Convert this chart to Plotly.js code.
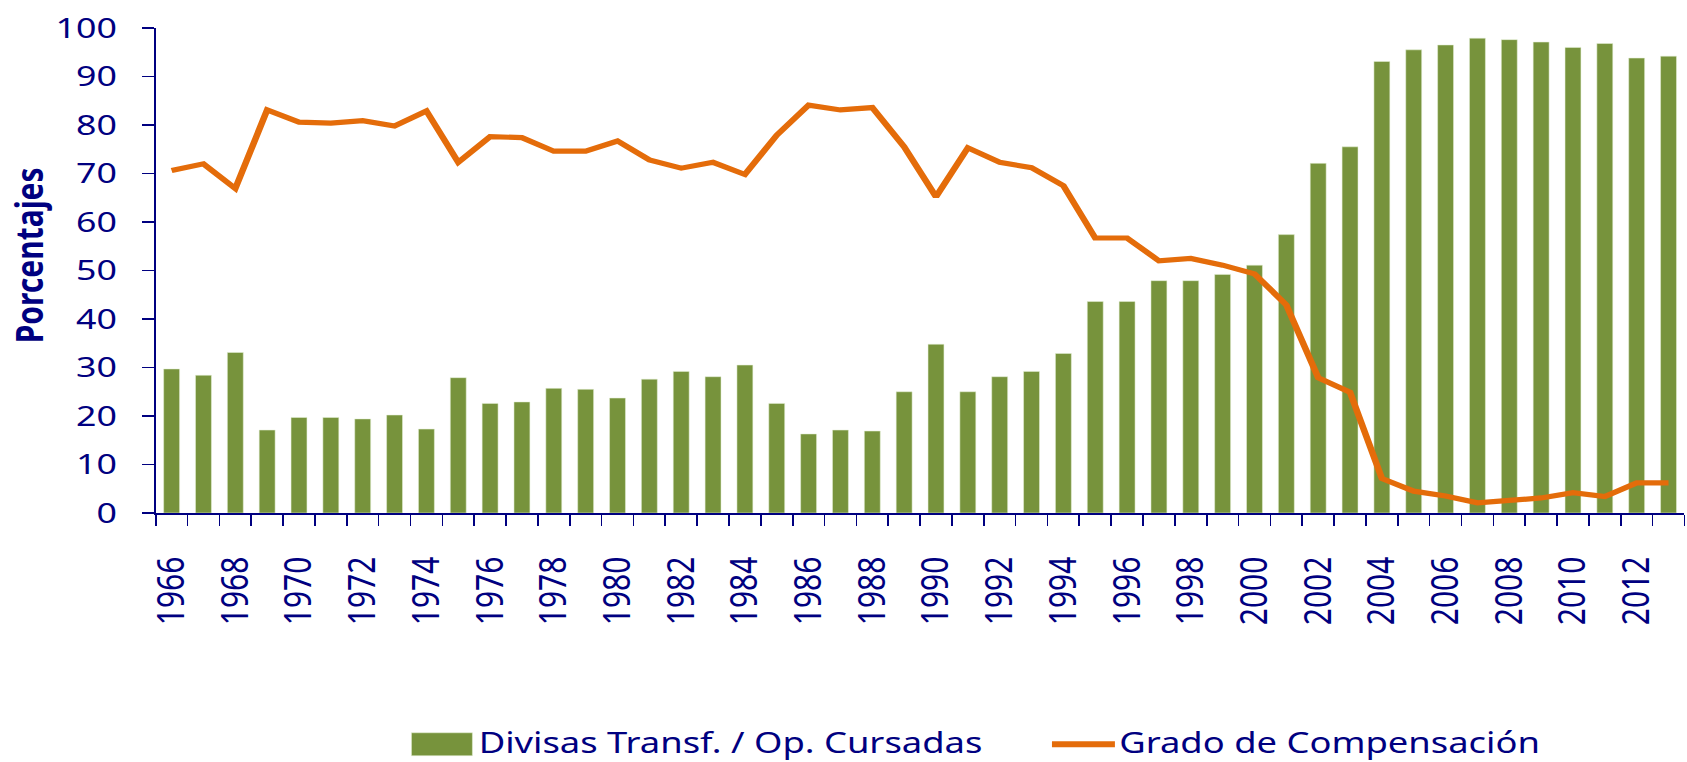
<!DOCTYPE html>
<html>
<head>
<meta charset="utf-8">
<script src="https://cdn.plot.ly/plotly-3.0.1.min.js"></script>
<style>
  html, body { margin: 0; padding: 0; background: #ffffff; overflow: hidden; }
  #chart { width: 1322px; height: 762px; transform: scaleX(1.27610); transform-origin: 0 0; }
</style>
</head>
<body>
<div id="chart"></div>
<script>
// ---- data ----
const years = [1966, 1967, 1968, 1969, 1970, 1971, 1972, 1973, 1974, 1975, 1976, 1977,
  1978, 1979, 1980, 1981, 1982, 1983, 1984, 1985, 1986, 1987, 1988, 1989,
  1990, 1991, 1992, 1993, 1994, 1995, 1996, 1997, 1998, 1999, 2000, 2001,
  2002, 2003, 2004, 2005, 2006, 2007, 2008, 2009, 2010, 2011, 2012, 2013];

const divisasTransf = [29.7, 28.4, 33.1, 17.1, 19.7, 19.7, 19.4, 20.2, 17.3, 27.9, 22.6, 22.9,
  25.7, 25.5, 23.7, 27.6, 29.2, 28.1, 30.5, 22.6, 16.3, 17.1, 16.9, 25.0,
  34.8, 25.0, 28.1, 29.2, 32.9, 43.6, 43.6, 47.9, 47.9, 49.2, 51.1, 57.4,
  72.1, 75.5, 93.1, 95.5, 96.5, 97.9, 97.6, 97.1, 96.0, 96.8, 93.8, 94.2];

const gradoCompensacion = [70.6, 72.0, 66.9, 83.1, 80.6, 80.4, 80.9, 79.8, 82.9, 72.3, 77.6, 77.4,
  74.6, 74.6, 76.7, 72.8, 71.1, 72.3, 69.8, 77.9, 84.1, 83.1, 83.6, 75.5,
  65.2, 75.3, 72.3, 71.2, 67.5, 56.7, 56.7, 52.0, 52.5, 51.1, 49.3, 42.9,
  27.9, 24.9, 7.1, 4.5, 3.5, 2.1, 2.6, 3.1, 4.2, 3.4, 6.2, 6.2];

const xTickYears = [1966, 1968, 1970, 1972, 1974, 1976, 1978, 1980, 1982, 1984, 1986, 1988,
  1990, 1992, 1994, 1996, 1998, 2000, 2002, 2004, 2006, 2008, 2010, 2012];
const xTickLabels = ["1966", "1968", "1970", "1972", "1974", "1976", "1978", "1980", "1982", "1984", "1986", "1988",
  "1990", "1992", "1994", "1996", "1998", "2000", "2002", "2004", "2006", "2008", "2010", "2012"];

const seriesNames = ["Divisas Transf. / Op. Cursadas", "Grado de Compensación"];
const yTitle = "Porcentajes";

// ---- styling / layout ----
const K = 1.27610;           // horizontal stretch applied by CSS
const W = 1322, H = 762;
const M = { l: 121.5, r: 1.6, t: 27.5, b: 249 };
const NAVY = "#000080";
const GREEN = "#77933C";
const ORANGE = "#E46C0A";
const FONT = "Noto Sans, Open Sans, DejaVu Sans, sans-serif";

const plotW = W - M.l - M.r, plotH = H - M.t - M.b;
const px = X => (X / K - M.l) / plotW;          // page x (full px) -> paper x
const py = Y => (H - M.b - Y) / plotH;          // page y -> paper y

const traces = [
  {
    type: "bar",
    x: years,
    y: divisasTransf,
    name: seriesNames[0],
    marker: { color: GREEN, line: { color: "rgba(230,240,215,0.8)", width: 0.6 } },
    showlegend: false,
    hoverinfo: "x+y"
  },
  {
    type: "scatter",
    mode: "lines",
    x: years,
    y: gradoCompensacion,
    name: seriesNames[1],
    line: { color: ORANGE, width: 5.2, shape: "linear" },
    showlegend: false,
    hoverinfo: "x+y"
  }
];

const layout = {
  width: W,
  height: H,
  margin: M,
  paper_bgcolor: "#ffffff",
  plot_bgcolor: "#ffffff",
  bargap: 0.5,
  showlegend: false,
  font: { family: FONT, color: NAVY },
  xaxis: {
    type: "linear",
    range: [1965.5, 2013.5],
    tickmode: "array",
    tickvals: xTickYears,
    ticktext: xTickLabels,
    tickangle: -90,
    ticks: "",
    ticklabelstandoff: 30,
    tickfont: { family: FONT, size: 30, color: NAVY },
    showline: true,
    linecolor: NAVY,
    linewidth: 1.6,
    showgrid: false,
    zeroline: false,
    minor: {
      tickmode: "linear",
      tick0: 1965.5,
      dtick: 1,
      ticks: "outside",
      ticklen: 11,
      tickwidth: 1.3,
      tickcolor: NAVY,
      showgrid: false
    }
  },
  yaxis: {
    range: [0, 100],
    dtick: 10,
    tick0: 0,
    ticks: "outside",
    ticklen: 9.5,
    tickwidth: 1.6,
    tickcolor: NAVY,
    ticklabelstandoff: 14,
    tickfont: { family: FONT, size: 28, color: NAVY },
    showline: true,
    linecolor: NAVY,
    linewidth: 1.3,
    showgrid: false,
    zeroline: false
  },
  shapes: [
    { type: "rect", xref: "paper", yref: "paper",
      x0: px(411), x1: px(472), y0: py(756), y1: py(733),
      fillcolor: GREEN, line: { color: "rgba(230,240,215,0.8)", width: 0.6 } },
    { type: "line", xref: "paper", yref: "paper",
      x0: px(1052), x1: px(1115), y0: py(744.5), y1: py(744.5),
      line: { color: ORANGE, width: 6 } }
  ],
  annotations: [
    { xref: "paper", yref: "paper", x: px(27.5), y: py(255), xanchor: "center", yanchor: "middle",
      text: "<b>" + yTitle + "</b>", textangle: -90, showarrow: false,
      font: { family: FONT, size: 30, color: NAVY, weight: "bold" } },
    { xref: "paper", yref: "paper", x: px(476), y: py(742), xanchor: "left", yanchor: "middle",
      text: seriesNames[0], showarrow: false,
      font: { family: FONT, size: 28.5, color: NAVY } },
    { xref: "paper", yref: "paper", x: px(1117), y: py(742), xanchor: "left", yanchor: "middle",
      text: seriesNames[1], showarrow: false,
      font: { family: FONT, size: 28.5, color: NAVY } }
  ]
};

Plotly.newPlot("chart", traces, layout, { displayModeBar: false, staticPlot: true });
</script>
</body>
</html>
